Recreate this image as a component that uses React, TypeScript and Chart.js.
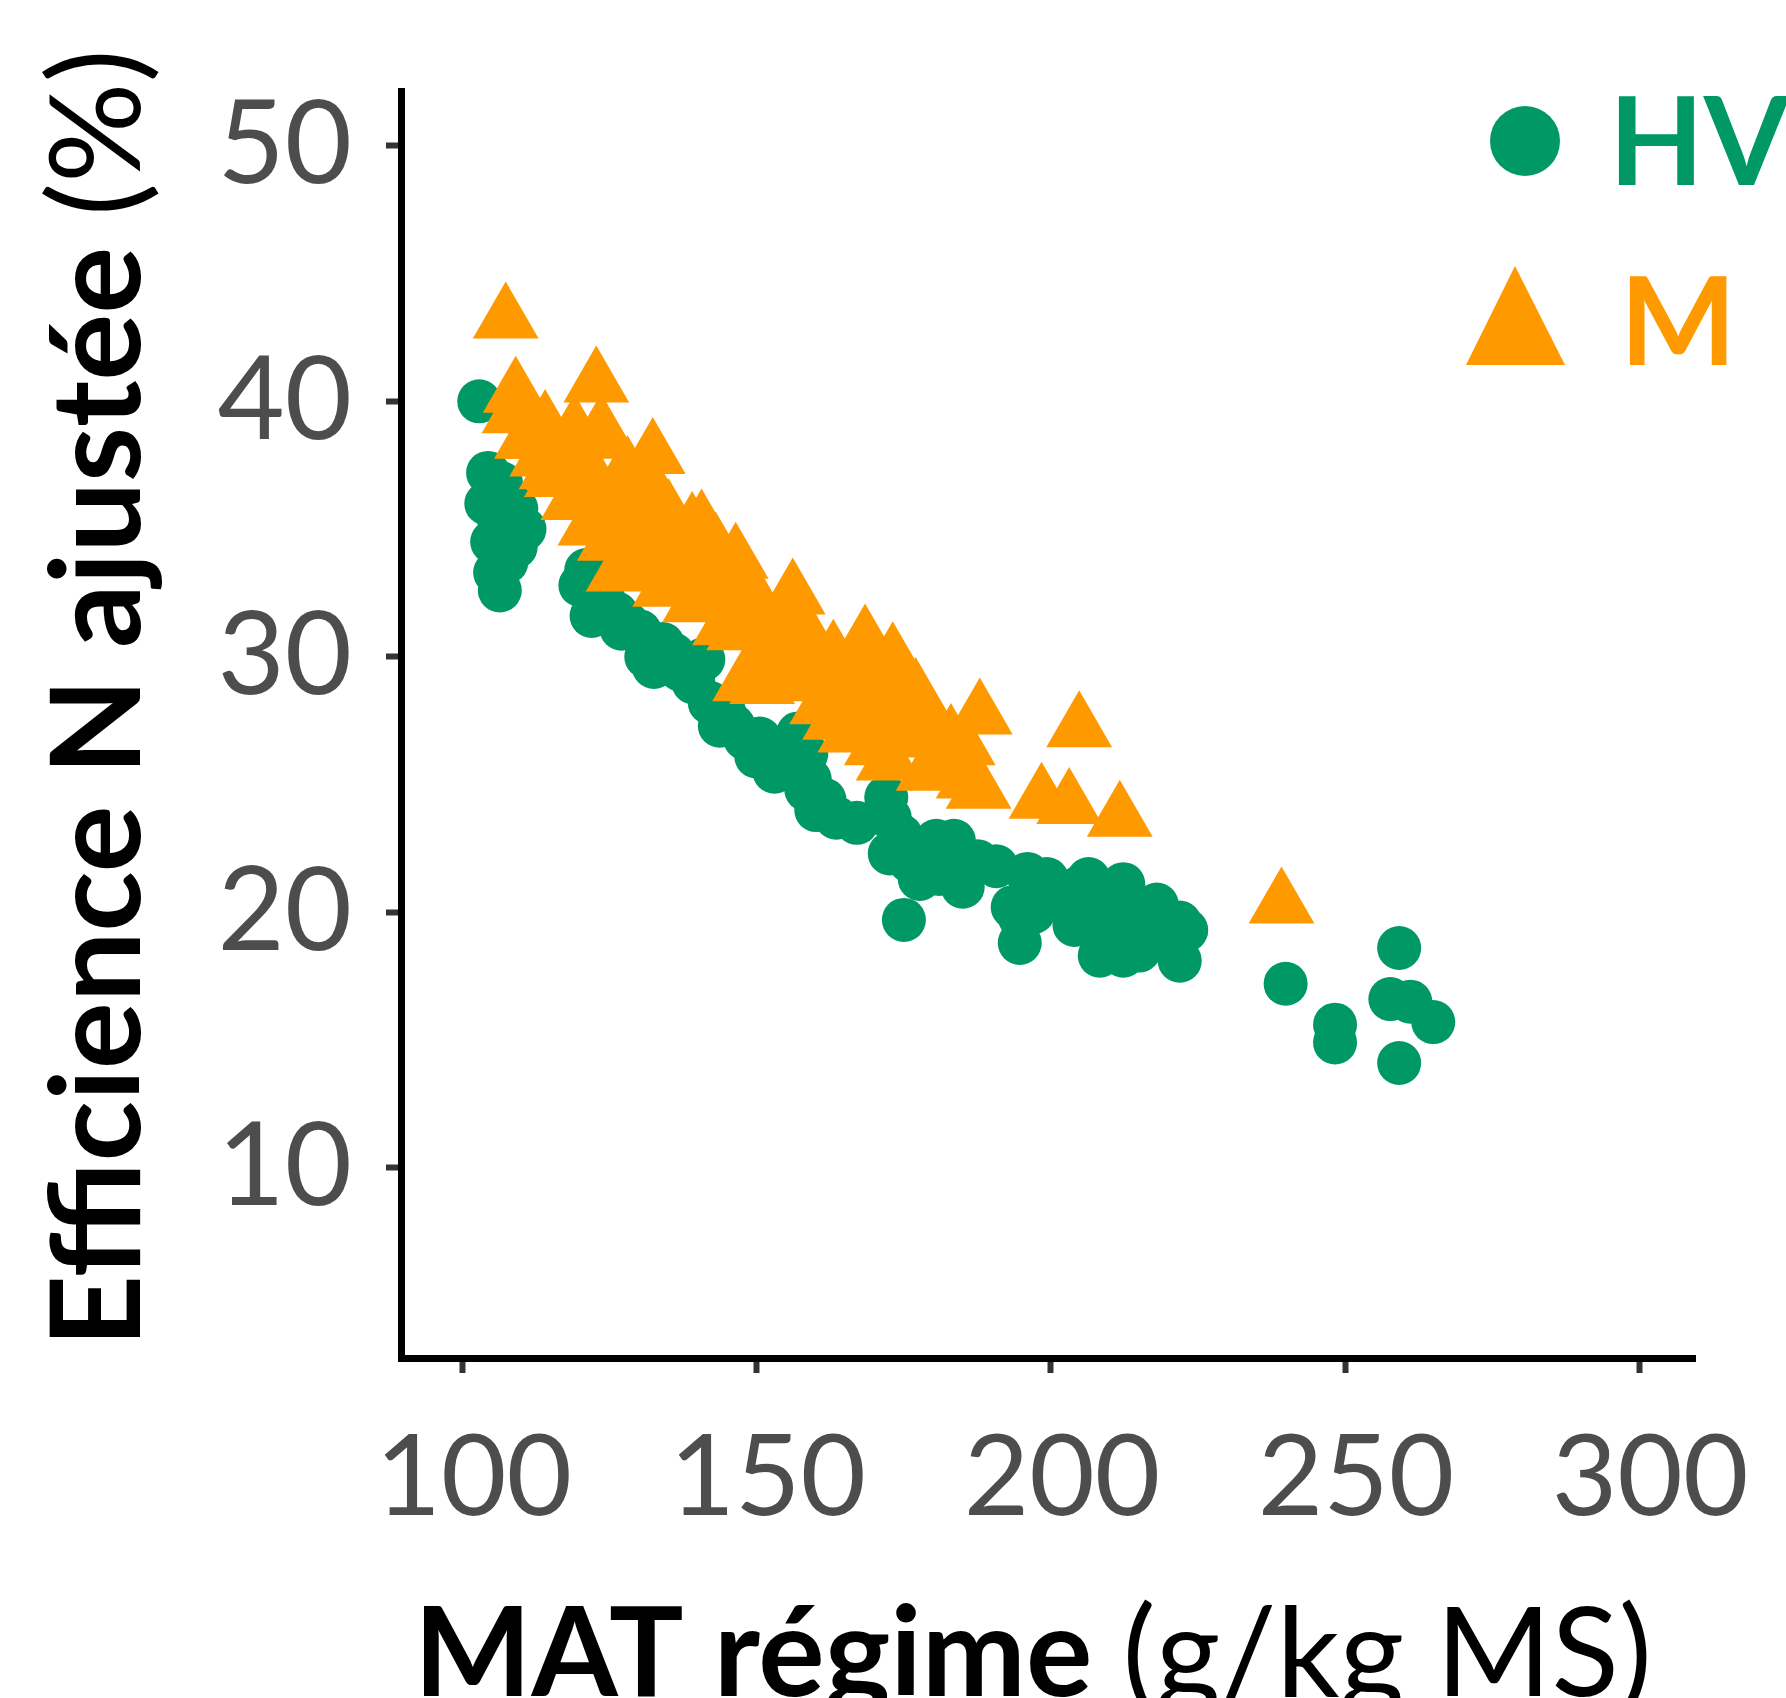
import React, { useEffect, useRef } from 'react';
import { Chart, registerables } from 'chart.js';

Chart.register(...registerables);

const GREEN = '#009966';
const ORANGE = '#FF9900';
const TICK_TEXT = '#4D4D4D';

const seriesNames = ['HV', 'M'];
const xTicks = [100, 150, 200, 250, 300];
const yTicks = [10, 20, 30, 40, 50];
const xTitleBold = 'MAT régime';
const xTitleNormal = '(g/kg MS)';
const yTitleBold = 'Efficience N ajustée';
const yTitleNormal = '(%)';

// HV (circles)
const hvX = [
  102.8, 104.3, 106.5, 106.0, 109.1, 110.5, 108.0, 107.4, 106.3, 121.0,
  121.9, 124.0, 126.1, 128.0, 130.1, 131.2, 134.0, 135.8, 139.2, 140.9,
  143.7, 146.0, 148.0, 149.9, 153.0, 157.0, 158.4, 158.4, 160.1, 163.5,
  167.0, 172.6, 172.6, 175.0, 177.7, 178.0, 180.5, 183.0, 185.0, 187.5,
  190.7, 193.5, 194.7, 194.7, 199.3, 201.0, 203.0, 206.4, 207.7, 208.3,
  212.3, 212.3, 216.8, 221.9, 221.9, 239.9, 248.3, 248.3, 257.7, 259.2,
  259.2, 261.1, 265.0, 104.0, 105.0, 105.5, 107.0, 108.5, 109.0, 106.5,
  120.0, 123.0, 127.0, 132.5, 137.0, 142.0, 144.5, 150.5, 155.0, 159.0,
  161.5, 172.0, 174.5, 176.0, 179.0, 181.0, 183.5, 196.0, 197.0, 204.0,
  205.0, 210.0, 214.0, 215.0, 218.0, 220.0, 223.0, 210.5,
];
const hvY = [
  40.0, 37.2, 36.8, 35.5, 35.8, 35.0, 34.7, 33.7, 32.6, 33.4,
  31.6, 32.2, 31.7, 31.3, 31.0, 30.0, 30.5, 30.1, 29.0, 29.9,
  27.3, 27.3, 26.8, 26.1, 25.5, 27.0, 26.2, 24.8, 24.0, 23.7,
  23.5, 23.7, 22.3, 19.7, 21.3, 22.3, 22.8, 21.5, 21.0, 22.0,
  21.8, 20.2, 19.8, 18.8, 21.3, 20.9, 20.3, 21.3, 19.6, 18.3,
  21.1, 18.3, 19.0, 19.6, 18.1, 17.2, 15.6, 14.9, 16.6, 18.6,
  14.1, 16.5, 15.7, 36.0, 34.5, 33.3, 36.3, 35.2, 34.3, 34.0,
  32.8, 31.9, 31.1, 29.6, 29.5, 28.2, 27.8, 26.8, 26.0, 25.2,
  24.4, 24.5, 23.0, 22.0, 21.8, 21.5, 22.8, 21.5, 20.0, 19.5,
  21.0, 20.3, 19.8, 18.5, 20.3, 18.8, 19.3, 19.0,
];

// M (triangles)
const mX = [
  107.3, 109.0, 109.6, 108.8, 110.9, 115.1, 118.8, 121.7, 122.7, 122.7,
  123.6, 126.5, 132.3, 134.4, 139.5, 140.6, 144.6, 146.4, 148.0, 150.9,
  156.1, 161.1, 163.3, 165.9, 168.4, 170.4, 172.4, 173.1, 179.2, 183.0,
  187.9, 187.7, 198.4, 203.1, 204.8, 211.7, 239.2, 126.0, 129.0, 131.0,
  135.0, 137.0, 142.0, 145.0, 150.0, 152.0, 155.0, 158.0, 160.0, 163.0,
  165.0, 169.0, 175.0, 177.0, 180.0, 184.0, 113.5, 117.0, 120.0, 128.0,
  133.0, 138.0, 112.5, 114.0, 116.0, 119.0, 121.0, 124.0, 125.0, 127.0,
  130.0, 132.0, 134.0, 136.0, 139.0, 141.0, 143.0, 147.0, 149.0, 151.0,
  153.0, 154.0, 157.0, 159.0, 162.0, 164.0, 166.0, 167.0, 171.0, 172.0,
  174.0, 176.0, 178.0, 181.0, 182.0, 185.0, 186.0,
];
const mY = [
  43.2, 40.3, 39.8, 39.5, 38.5, 37.3, 36.1, 35.1, 40.7, 38.5,
  38.8, 33.3, 37.9, 32.7, 32.1, 35.1, 31.2, 33.8, 29.0, 28.9,
  32.4, 28.1, 27.5, 27.0, 30.6, 26.5, 25.9, 29.9, 25.5, 26.7,
  27.7, 24.8, 24.4, 24.2, 27.2, 23.7, 20.3, 36.5, 35.0, 34.0,
  35.5, 34.0, 33.0, 32.5, 31.5, 30.5, 30.0, 31.0, 29.5, 30.0,
  28.8, 28.5, 27.5, 28.5, 27.0, 25.8, 37.8, 37.5, 37.8, 37.2,
  36.2, 33.8, 38.5, 39.0, 37.0, 38.8, 36.8, 35.5, 34.5, 35.5,
  36.5, 33.5, 34.5, 32.8, 35.0, 33.5, 34.2, 31.0, 32.5, 31.2,
  29.8, 31.5, 29.0, 29.8, 29.2, 29.3, 29.6, 27.8, 27.5, 29.0,
  28.0, 26.8, 27.8, 26.2, 26.3, 26.5, 25.2,
];

const FONT = 'Lato';

function measureMixed(
  ctx: CanvasRenderingContext2D,
  bold: string,
  normal: string,
  target: number,
): { size: number; wb: number; wn: number } {
  let size = 100;
  ctx.font = `bold ${size}px ${FONT}`;
  const b = ctx.measureText(bold + ' ').width;
  ctx.font = `${size}px ${FONT}`;
  const n = ctx.measureText(normal).width;
  size = (size * target) / (b + n);
  return { size, wb: (b * size) / 100, wn: (n * size) / 100 };
}

const overlayPlugin = {
  id: 'overlay',
  afterDraw(chart: any) {
    const ctx: CanvasRenderingContext2D = chart.ctx;
    ctx.save();
    ctx.fillStyle = '#000';
    ctx.textBaseline = 'alphabetic';
    ctx.textAlign = 'left';

    // X title
    {
      const m = measureMixed(ctx, xTitleBold, xTitleNormal, 1238);
      const cx = 1033;
      const by = 1696;
      const startX = cx - (m.wb + m.wn) / 2;
      ctx.font = `bold ${m.size}px ${FONT}`;
      ctx.fillText(xTitleBold, startX, by);
      ctx.font = `${m.size}px ${FONT}`;
      ctx.fillText(xTitleNormal, startX + m.wb, by);
    }

    // Y title (rotated)
    {
      const m = measureMixed(ctx, yTitleBold, yTitleNormal, 1298);
      const bx = 140;
      const cy = 698;
      ctx.save();
      ctx.translate(bx, cy);
      ctx.rotate(-Math.PI / 2);
      const startU = -(m.wb + m.wn) / 2;
      ctx.font = `bold ${m.size}px ${FONT}`;
      ctx.fillText(yTitleBold, startU, 0);
      ctx.font = `${m.size}px ${FONT}`;
      ctx.fillText(yTitleNormal, startU + m.wb, 0);
      ctx.restore();
    }

    // Legend
    ctx.fillStyle = GREEN;
    ctx.beginPath();
    ctx.arc(1525, 141, 35, 0, Math.PI * 2);
    ctx.fill();
    ctx.font = `bold 123px ${FONT}`;
    ctx.fillText(seriesNames[0], 1609, 185);

    ctx.fillStyle = ORANGE;
    ctx.beginPath();
    ctx.moveTo(1515, 266);
    ctx.lineTo(1565, 365);
    ctx.lineTo(1466, 365);
    ctx.closePath();
    ctx.fill();
    ctx.font = `bold 123px ${FONT}`;
    ctx.fillText(seriesNames[1], 1620, 365);

    ctx.restore();
  },
};

export default function App() {
  const ref = useRef<HTMLCanvasElement | null>(null);

  useEffect(() => {
    const canvas = ref.current;
    if (!canvas) return;
    const chart = new Chart(canvas, {
      type: 'scatter',
      data: {
        datasets: [
          {
            label: seriesNames[0],
            data: hvX.map((x, i) => ({ x, y: hvY[i] })),
            backgroundColor: GREEN,
            borderWidth: 0,
            pointStyle: 'circle',
            pointRadius: 22,
            order: 1,
          },
          {
            label: seriesNames[1],
            data: mX.map((x, i) => ({ x, y: mY[i] })),
            backgroundColor: ORANGE,
            borderWidth: 0,
            pointStyle: 'triangle',
            pointRadius: 38,
            order: 0,
          },
        ],
      },
      options: {
        animation: false,
        responsive: false,
        devicePixelRatio: 1,
        events: [],
        layout: { padding: { left: 0, top: 91, right: 91, bottom: 0 } },
        plugins: {
          legend: { display: false },
          tooltip: { enabled: false },
        },
        scales: {
          x: {
            type: 'linear',
            position: 'bottom',
            min: 89.5,
            max: 309.5,
            afterBuildTicks: (s: any) => {
              s.ticks = xTicks.map((v) => ({ value: v }));
            },
            afterFit: (s: any) => {
              s.height = 340;
              s.paddingLeft = 0;
              s.paddingRight = 0;
            },
            grid: {
              display: true,
              drawOnChartArea: false,
              drawTicks: true,
              tickLength: 15,
              tickWidth: 6,
              tickColor: '#333333',
            },
            border: { display: true, color: '#000000', width: 7 },
            ticks: {
              color: TICK_TEXT,
              font: { family: FONT, size: 113 },
              padding: 38,
              labelOffset: 11,
              maxRotation: 0,
              autoSkip: false,
            },
          },
          y: {
            type: 'linear',
            min: 2.55,
            max: 52.15,
            afterBuildTicks: (s: any) => {
              s.ticks = yTicks.map((v) => ({ value: v }));
            },
            afterFit: (s: any) => {
              s.width = 401;
              s.paddingTop = 0;
              s.paddingBottom = 0;
            },
            grid: {
              display: true,
              drawOnChartArea: false,
              drawTicks: true,
              tickLength: 15,
              tickWidth: 6,
              tickColor: '#333333',
            },
            border: { display: true, color: '#000000', width: 7 },
            ticks: {
              color: TICK_TEXT,
              font: { family: FONT, size: 116 },
              padding: 34,
              autoSkip: false,
            },
          },
        },
      },
      plugins: [overlayPlugin],
    });
    return () => chart.destroy();
  }, []);

  return (
    <canvas
      ref={ref}
      width={1786}
      height={1698}
      style={{ position: 'absolute', left: 0, top: 0, display: 'block' }}
    />
  );
}
